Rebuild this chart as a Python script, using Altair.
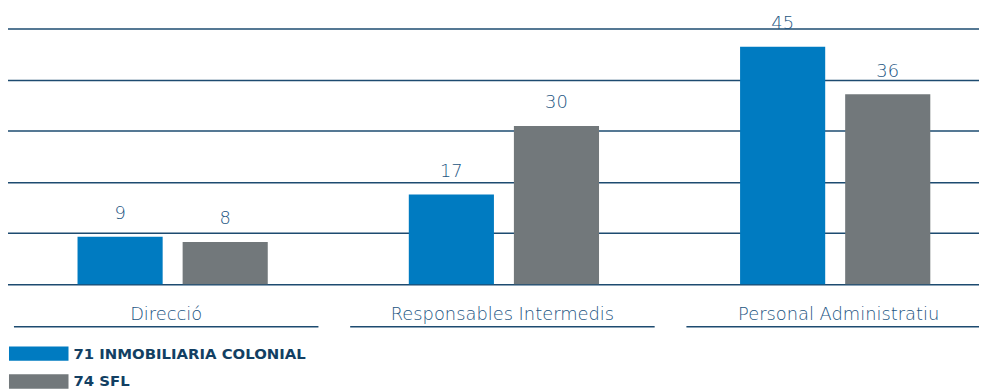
import altair as alt
import pandas as pd

CATEGORIES = ["Direcció", "Responsables Intermedis", "Personal Administratiu"]
SERIES = ["71 INMOBILIARIA COLONIAL", "74 SFL"]
COLONIAL = [9, 17, 45]
SFL = [8, 30, 36]
Y_MAX = 48.5
GRID_TICKS = [0, 9.7, 19.4, 29.1, 38.8, 48.5]

rows = []
for i, c in enumerate(CATEGORIES):
    rows.append({"cat": c, "serie": SERIES[0], "value": COLONIAL[i]})
    rows.append({"cat": c, "serie": SERIES[1], "value": SFL[i]})
df = pd.DataFrame(rows)
cats_df = pd.DataFrame({"cat": CATEGORIES})

BLUE = "#007bc1"
GREY = "#72787b"
NAVY = "#1d4b70"
LABEL = "#235582"
FONT = "DejaVu Sans"

x_bars = alt.X("cat:N", sort=CATEGORIES, axis=None,
               scale=alt.Scale(range=[-2, 1000], paddingInner=0, paddingOuter=0))
xoff = alt.XOffset("serie:N", sort=SERIES,
                   scale=alt.Scale(paddingInner=0.19, paddingOuter=0.671))
y = alt.Y("value:Q", scale=alt.Scale(domain=[0, Y_MAX], nice=False, zero=True),
          axis=alt.Axis(values=GRID_TICKS, grid=True, gridColor=NAVY, gridWidth=1.5,
                        labels=False, ticks=False, domain=False, title=None))
color = alt.Color("serie:N", sort=SERIES,
                  scale=alt.Scale(domain=SERIES, range=[BLUE, GREY]),
                  legend=alt.Legend(title=None, orient="none", legendX=15, legendY=313,
                                    direction="vertical",
                                    symbolType="M-2,-0.48h4v0.96h-4z", symbolSize=900,
                                    symbolStrokeWidth=0, symbolOpacity=1,
                                    labelFont="DejaVu Sans", labelFontWeight="bold",
                                    labelFontSize=15, labelColor="#123f63",
                                    labelLimit=500,
                                    labelOffset=20, rowPadding=5, padding=0))

base = alt.Chart(df)
bars = base.mark_bar().encode(x=x_bars, xOffset=xoff, y=y, color=color)
vals = base.mark_text(font=FONT, fontWeight=200, fontSize=18, color=LABEL,
                      baseline="alphabetic", dy=-18).encode(
    x=x_bars, xOffset=xoff, y=alt.Y("value:Q"), text=alt.Text("value:Q"))

x_lab = alt.X("cat:N", sort=CATEGORIES, axis=None,
              scale=alt.Scale(range=[-11, 1006], paddingInner=0.0944, paddingOuter=0.0472))
cbase = alt.Chart(cats_df)
cat_text = cbase.mark_text(font=FONT, fontWeight=200, fontSize=18, color=LABEL,
                           baseline="alphabetic").encode(
    x=x_lab, y=alt.value(293.5), text="cat:N")
underline = cbase.mark_bar(color=NAVY).encode(
    x=x_lab, y=alt.value(300), y2=alt.value(301.6))

chart = alt.layer(
    alt.layer(bars, vals),
    alt.layer(underline, cat_text),
).resolve_scale(x="independent").properties(
    width=978, height=258,
    padding={"left": 1, "top": 19, "right": 0, "bottom": 105},
    autosize=alt.AutoSizeParams(type="none"),
).configure_view(stroke=None)

chart.save("out.html", embed_options={"renderer": "svg", "actions": False})
